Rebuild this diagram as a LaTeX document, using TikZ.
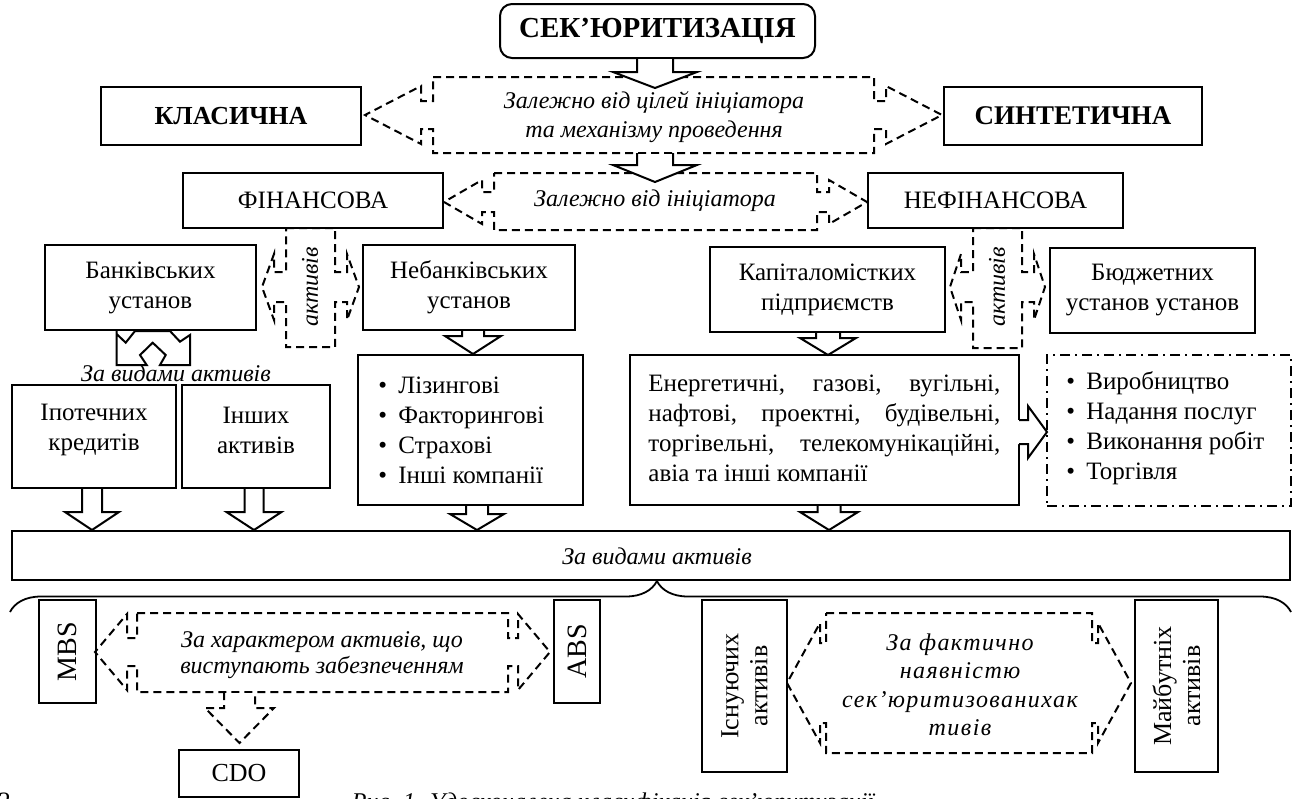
\documentclass[tikz,border=0pt]{standalone}
\usepackage{fontspec}
\setmainfont{Liberation Serif}
\usetikzlibrary{fit,decorations.pathreplacing}
\tikzset{
  box/.style={draw, line width=1pt, inner sep=0pt},
  dsh/.style={draw, line width=1pt, dash pattern=on 4pt off 2.5pt},
  dashdot/.style={draw, line width=1pt, dash pattern=on 5pt off 2.5pt on 1pt off 2.5pt},
  txt/.style={font=\fontsize{12.5}{15}\selectfont, align=center, inner sep=0pt},
  itxt/.style={font=\fontsize{12}{15}\selectfont\itshape, align=center, inner sep=0pt},
  btxt/.style={font=\fontsize{13.5}{16}\selectfont\bfseries, align=center, inner sep=0pt},
}
% white block arrow pointing down: #1 opts, #2 cx, #3 half shaft, #4 half head, #5 y0, #6 y1, #7 tip
\newcommand\blkdown[7][]{%
  \fill[white] ({#2-#3},{#5+1}) -- ({#2-#3},#6) -- ({#2-#4},#6) -- (#2,#7) -- ({#2+#4},#6) -- ({#2+#3},#6) -- ({#2+#3},{#5+1}) -- cycle;
  \draw[line width=1pt, line join=miter, #1] ({#2-#3},#5) -- ({#2-#3},#6) -- ({#2-#4},#6) -- (#2,#7) -- ({#2+#4},#6) -- ({#2+#3},#6) -- ({#2+#3},#5);
}
% left-right arrow callout: x1,x2,y1,y2,cy,half shaft,half head,notch,head length
\newcommand\hcall[9]{%
  \draw[dsh, fill=white] (#1,#3) -- (#2,#3) -- (#2,{#5-#6}) -- ({#2+#8},{#5-#6}) -- ({#2+#8},{#5-#7}) -- ({#2+#8+#9},#5) -- ({#2+#8},{#5+#7}) -- ({#2+#8},{#5+#6}) -- (#2,{#5+#6}) -- (#2,#4) -- (#1,#4) -- (#1,{#5+#6}) -- ({#1-#8},{#5+#6}) -- ({#1-#8},{#5+#7}) -- ({#1-#8-#9},#5) -- ({#1-#8},{#5-#7}) -- ({#1-#8},{#5-#6}) -- (#1,{#5-#6}) -- cycle;
}
\newcommand\bul{\textbullet\hspace{0.45em}}
\begin{document}
\begin{tikzpicture}[x=0.5pt, y=-0.5pt]
\useasboundingbox (0,0) rectangle (1300,798);

% ---------- callouts (drawn first) ----------
\hcall{433}{874}{77}{153}{115}{14}{29}{12}{56}
\hcall{494}{817}{173}{230}{202}{10}{22}{12}{38}
\hcall{286}{335}{228}{347}{287}{15}{33}{12}{12}
\hcall{973}{1022}{228}{348}{287}{15}{33}{12}{11}
\hcall{137}{508}{613}{692}{652}{14}{38}{10}{32}
\hcall{826}{1092}{613}{753}{683}{40}{60}{6}{33}

% ---------- boxes ----------
\node[box, rounded corners=6pt, fit={(500,4) (815,58)}] (sek) {};
\node[box, fit={(101,87) (361,145)}] (klas) {};
\node[box, fit={(944,87) (1202,145)}] (synth) {};
\node[box, fit={(183,173) (443,228)}] (fin) {};
\node[box, fit={(868,173) (1123,228)}] (nefin) {};
\node[box, fit={(45,245) (256,330)}] (bank) {};
\node[box, fit={(363,245) (575,330)}] (nebank) {};
\node[box, fit={(710,247) (945,332)}] (kap) {};
\node[box, fit={(1050,248) (1255,333)}] (budg) {};
\node[box, fit={(12,385) (176,488)}] (ipot) {};
\node[box, fit={(182,385) (330,488)}] (insh) {};
\node[box, fit={(358,355) (583,505)}] (liz) {};
\node[box, fit={(630,355) (1019,505)}] (energ) {};
\node[dashdot, inner sep=0pt, fit={(1047,355) (1291,506)}] (dotb) {};
\node[box, fit={(12,531) (1290,580)}] (bar) {};
\node[box, fit={(39,600) (96,703)}] (mbs) {};
\node[box, fit={(554,600) (600,703)}] (abs) {};
\node[box, fit={(179,750) (299,797)}] (cdo) {};
\node[box, fit={(702,600) (787,772)}] (isnu) {};
\node[box, fit={(1135,600) (1218,772)}] (maib) {};

% ---------- block arrows ----------
\blkdown{655}{18}{42}{58}{72}{88}
\blkdown{655}{18}{42}{153}{165}{182}
\blkdown{473}{11}{28}{330}{336}{354}
\blkdown{828}{12}{28}{332}{338}{355}
\blkdown{92}{10}{27}{488}{512}{530}
\blkdown{254}{9.5}{27.5}{488}{512}{530}
\blkdown{477}{11}{27}{505}{514}{530}
\blkdown{829}{11.5}{29}{505}{512}{530}
\blkdown[dash pattern=on 4pt off 2.5pt]{239.5}{15.5}{34.5}{692}{708}{743}

% right arrow from energ to dotted box
\fill[white] (1018,420) -- (1028,420) -- (1028,406) -- (1047,432) -- (1028,458) -- (1028,444) -- (1018,444) -- cycle;
\draw[line width=1pt, line join=miter] (1019,420) -- (1028,420) -- (1028,406) -- (1047,432) -- (1028,458) -- (1028,444) -- (1019,444);

% split arrow under bank
\draw[line width=1pt, line join=miter, fill=white] (116.7,331) -- (116.7,365) -- (146.7,365) -- (140,355) -- (152.7,342.7) -- (165.7,355) -- (160,365) -- (190,365) -- (190,335) -- (180,341.7) -- (170,331) -- (135,331) -- (125.7,342.7) -- (116.7,334) -- cycle;
\draw[line width=1pt] (45,330) -- (256,330);

% brace
\draw[line width=0.9pt, decorate, decoration={brace, amplitude=15.5pt, aspect=0.505}] (10,612) -- (1291,612);

% ---------- texts ----------
\node[btxt, font=\fontsize{14.5}{16}\selectfont\bfseries] (sek-t) at (sek) {СЕК’ЮРИТИЗАЦІЯ};
\node[btxt, font=\fontsize{13}{16}\selectfont\bfseries] (klas-t) at (klas) {КЛАСИЧНА};
\node[btxt] (synth-t) at (synth) {СИНТЕТИЧНА};
\node[itxt, font=\fontsize{12}{14.5}\selectfont\itshape] (c1-t) at (654,117) {Залежно від цілей ініціатора\\та механізму проведення};
\node[txt] (fin-t) at (fin) {ФІНАНСОВА};
\node[txt] (nefin-t) at (nefin) {НЕФІНАНСОВА};
\node[itxt] (c2-t) at (655,201) {Залежно від ініціатора};
\node[txt] (bank-t) at (bank) {Банківських\\установ};
\node[txt] (nebank-t) at (nebank) {Небанківських\\установ};
\node[txt] (kap-t) at (kap) {Капіталомістких\\підприємств};
\node[txt] (budg-t) at (budg) {Бюджетних\\установ установ};
\node[itxt, rotate=90] (akt1) at (310,287) {активів};
\node[itxt, rotate=90] (akt2) at (997,287) {активів};
\node[itxt] (vid-t) at (176,373) {За видами активів};
\node[txt] (ipot-t) at (94,430) {Іпотечних\\кредитів};
\node[txt] (insh-t) at (256,430) {Інших\\активів};
\node[txt, align=left, anchor=west] (liz-t) at (378,430) {\bul Лізингові\\\bul Факторингові\\\bul Страхові\\\bul Інші компанії};
\node[txt, align=left, anchor=west] (energ-t) at (648,428) {\makebox[176pt][s]{Енергетичні, газові, вугільні,}\\\makebox[176pt][s]{нафтові, проектні, будівельні,}\\\makebox[176pt][s]{торгівельні, телекомунікаційні,}\\авіа та інші компанії};
\node[txt, align=left, anchor=west] (dot-t) at (1066,428) {\bul Виробництво\\\bul Надання послуг\\\bul Виконання робіт\\\bul Торгівля};
\node[itxt] (bar-t) at (657,556) {За видами активів};
\node[txt, rotate=90, font=\fontsize{14}{16}\selectfont] (mbs-t) at (mbs) {MBS};
\node[txt, rotate=90, font=\fontsize{14}{16}\selectfont] (abs-t) at (abs) {ABS};
\node[itxt, font=\fontsize{12}{13.3}\selectfont\itshape] (c3-t) at (322,655) {За характером активів, що\\виступають забезпеченням};
\node[txt, font=\fontsize{13}{16}\selectfont] (cdo-t) at (cdo) {CDO};
\node[txt, rotate=90, font=\fontsize{13}{14.5}\selectfont] (isnu-t) at (isnu) {Існуючих\\активів};
\node[txt, rotate=90, font=\fontsize{13}{14.5}\selectfont] (maib-t) at (maib) {Майбутніх\\активів};
\node[itxt, font=\fontsize{12}{14.2}\selectfont\itshape\addfontfeature{LetterSpace=6}] (c4-t) at (960,685) {За фактично\\наявністю\\сек’юритизованихак\\тивів};
\node[itxt, anchor=base] (cap-t) at (613,809) {Рис. 1. Удосконалена класифікація сек’юритизації};
\node[txt, anchor=base west] (pg-t) at (-2,809) {2};
\end{tikzpicture}
\end{document}
